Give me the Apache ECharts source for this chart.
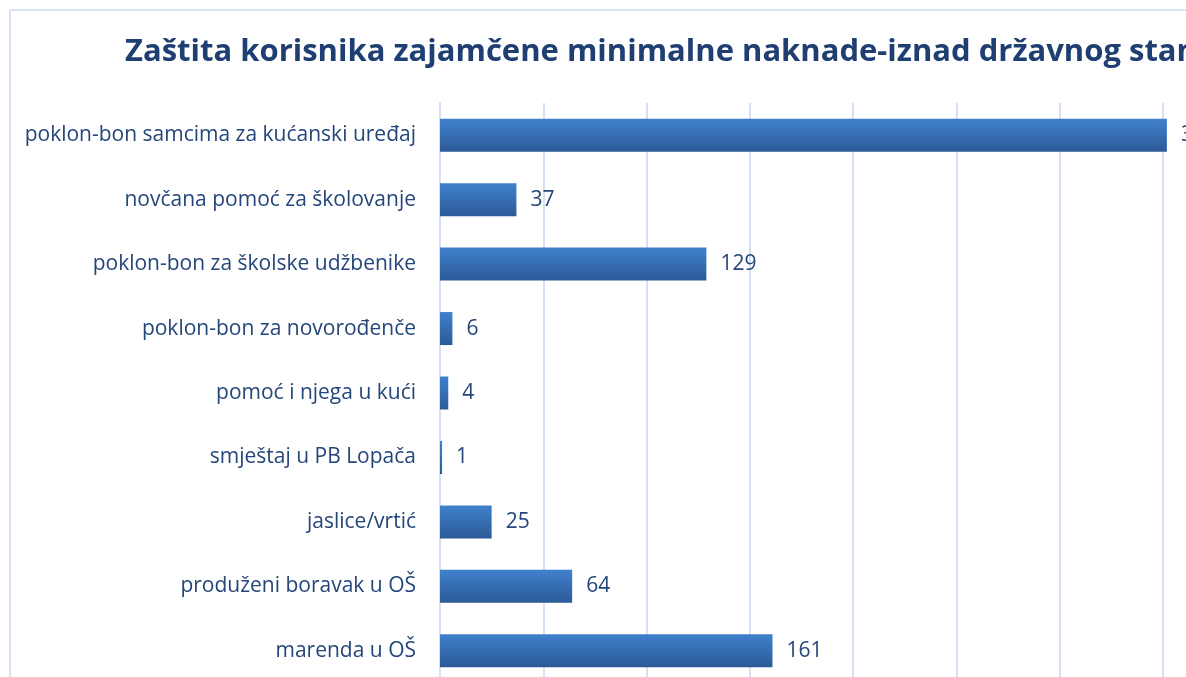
<!DOCTYPE html>
<html>
<head>
<meta charset="utf-8">
<script src="https://cdn.jsdelivr.net/npm/echarts@6/dist/echarts.min.js"></script>
<style>
  html, body { margin: 0; padding: 0; overflow: hidden; background: #fff; }
  #chart-container { width: 1500px; height: 800px; }
</style>
</head>
<body>
<div id="chart-container"></div>
<script>
var categories = [
    'poklon-bon samcima za kućanski uređaj',
    'novčana pomoć za školovanje',
    'poklon-bon za školske udžbenike',
    'poklon-bon za novorođenče',
    'pomoć i njega u kući',
    'smještaj u PB Lopača',
    'jaslice/vrtić',
    'produženi boravak u OŠ',
    'marenda u OŠ'
];
var values = [352, 37, 129, 6, 4, 1, 25, 64, 161];
var titleText = 'Zaštita korisnika zajamčene minimalne naknade-iznad državnog standarda';

var dom = document.getElementById('chart-container');
var myChart = echarts.init(dom, null, { renderer: 'canvas' });

var textColor = '#24467A';
var gridColor = '#D5E1F2';

var option = {
    animation: false,
    title: {
        text: titleText,
        left: 120,
        top: 32,
        textStyle: {
            fontFamily: 'Open Sans',
            fontWeight: 'bold',
            fontSize: 31,
            color: '#1F3F73'
        }
    },
    graphic: [
        {
            type: 'rect',
            shape: { x: 10, y: 10, width: 1600, height: 900 },
            style: { fill: 'none', stroke: '#D9E3F2', lineWidth: 2 },
            silent: true
        }
    ],
    grid: {
        left: 440,
        top: 103,
        width: 826,
        height: 580
    },
    xAxis: {
        type: 'value',
        min: 0,
        max: 400,
        interval: 50,
        axisLabel: { show: false },
        axisLine: { show: false },
        axisTick: { show: false },
        splitLine: { lineStyle: { color: gridColor, width: 2 } }
    },
    yAxis: {
        type: 'category',
        inverse: true,
        data: categories,
        axisTick: { show: false },
        axisLine: { lineStyle: { color: gridColor, width: 2 } },
        axisLabel: {
            margin: 24,
            fontFamily: 'Open Sans',
            fontSize: 21,
            color: textColor
        }
    },
    series: [
        {
            type: 'bar',
            data: values,
            barWidth: 33,
            itemStyle: {
                color: new echarts.graphic.LinearGradient(0, 0, 0, 1, [
                    { offset: 0, color: '#3F81CD' },
                    { offset: 1, color: '#2C5A97' }
                ])
            },
            label: {
                show: true,
                position: 'right',
                distance: 14,
                fontFamily: 'Open Sans',
                fontSize: 21,
                color: textColor
            }
        }
    ]
};

myChart.setOption(option);
window.addEventListener('resize', myChart.resize);
</script>
</body>
</html>
